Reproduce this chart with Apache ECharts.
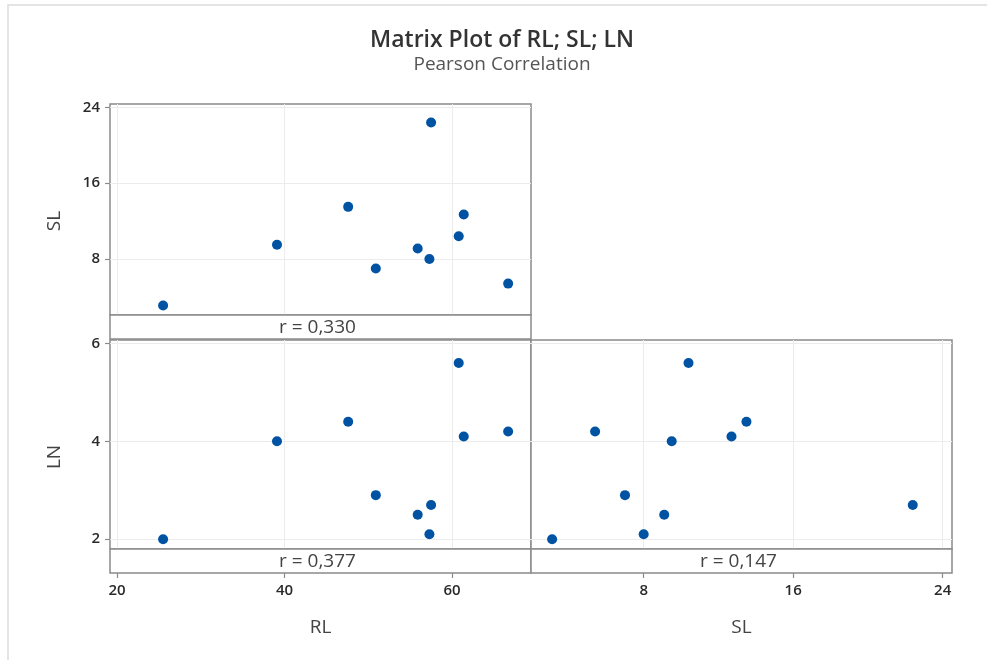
<!DOCTYPE html>
<html>
<head>
<meta charset="utf-8">
<title>Matrix Plot of RL; SL; LN</title>
<script src="https://cdn.jsdelivr.net/npm/echarts@6/dist/echarts.min.js"></script>
<style>
  html, body { margin: 0; padding: 0; background: #fff; }
  #chart { width: 987px; height: 660px; }
</style>
</head>
<body>
<div id="chart"></div>
<script>
// Observations (one entry per sample)
const RL = [25.5, 39.1, 47.6, 50.9, 55.9, 57.3, 57.5, 60.8, 61.4, 66.7];
const SL = [3.1, 9.5, 13.5, 7.0, 9.1, 8.0, 22.4, 10.4, 12.7, 5.4];
const LN = [2.0, 4.0, 4.4, 2.9, 2.5, 2.1, 2.7, 5.6, 4.1, 4.2];

// Tick positions for each variable
const rlTicks = [20, 40, 60];
const slTicks = [8, 16, 24];
const lnTicks = [2, 4, 6];

// Pearson correlation labels: RL-SL, RL-LN, SL-LN
const corrLabels = ['r = 0,330', 'r = 0,377', 'r = 0,147'];

const FONT = '"Open Sans", "Noto Sans", sans-serif';
const FRAME = '#8a8a8a';
const GRIDLINE = '#ececec';
const DOT = '#0052a3';

// Panel frames (data region; the correlation strip sits underneath)
const panels = [
  { left: 110, top: 104, width: 421, height: 211 },
  { left: 110, top: 340, width: 421, height: 209 },
  { left: 531, top: 340, width: 421, height: 209 }
];
const STRIP_H = 24;

const rlRange = { min: 19.16, max: 69.43 };
const slRangeX = { min: 1.97, max: 24.5 };
const slRangeY = { min: 2.09, max: 24.35 };
const lnRange = { min: 1.80, max: 6.07 };

const tickLabelStyle = { fontFamily: FONT, fontSize: 15, fontWeight: 600, color: '#2a2a2a' };

function xAxisDef(gridIndex, range, ticks, showLabels, name) {
  return {
    type: 'value', gridIndex, position: 'bottom',
    min: range.min, max: range.max,
    offset: showLabels ? STRIP_H : 0,
    name: name || '', nameLocation: 'middle', nameGap: 45,
    nameTextStyle: { fontFamily: FONT, fontSize: 19, color: '#444' },
    axisLine: { show: false },
    axisTick: { show: showLabels, length: 5, lineStyle: { color: FRAME, width: 1.2 }, customValues: ticks },
    axisLabel: Object.assign({ show: showLabels, customValues: ticks, margin: 10 }, tickLabelStyle),
    splitLine: { show: true, customValues: ticks, lineStyle: { color: GRIDLINE, width: 1 } }
  };
}
function yAxisDef(gridIndex, range, ticks, showLabels) {
  return {
    type: 'value', gridIndex, position: 'left',
    min: range.min, max: range.max,
    axisLine: { show: false },
    axisTick: { show: showLabels, length: 5, lineStyle: { color: FRAME, width: 1.2 }, customValues: ticks },
    axisLabel: Object.assign({ show: showLabels, customValues: ticks, margin: 10 }, tickLabelStyle),
    splitLine: { show: true, customValues: ticks, lineStyle: { color: GRIDLINE, width: 1 } }
  };
}

const pairs = (xs, ys) => xs.map((v, i) => [v, ys[i]]);

const graphics = [
  // outer chart border
  { type: 'rect', shape: { x: 8, y: 5, width: 1000, height: 700 }, style: { fill: 'none', stroke: '#dcdcdc', lineWidth: 1.5 }, z: 0, silent: true },
  // vertical axis titles
  { type: 'text', x: 55, y: 221, rotation: Math.PI / 2, style: { text: 'SL', fontFamily: FONT, fontSize: 19, fill: '#444', textAlign: 'center', textVerticalAlign: 'middle' }, z: 100 },
  { type: 'text', x: 55, y: 457, rotation: Math.PI / 2, style: { text: 'LN', fontFamily: FONT, fontSize: 19, fill: '#444', textAlign: 'center', textVerticalAlign: 'middle' }, z: 100 }
];
panels.forEach((p, i) => {
  graphics.push({
    type: 'rect', z: 100,
    shape: { x: p.left, y: p.top + p.height, width: p.width, height: STRIP_H },
    style: { fill: '#fff', stroke: FRAME, lineWidth: 1.5 }
  });
  graphics.push({
    type: 'text', z: 101,
    x: p.left + p.width / 2 - 3, y: p.top + p.height + STRIP_H / 2 + 1,
    style: { text: corrLabels[i], fontFamily: FONT, fontSize: 19, fill: '#444', textAlign: 'center', textVerticalAlign: 'middle' }
  });
});

const option = {
  backgroundColor: '#fff',
  animation: false,
  title: {
    text: 'Matrix Plot of RL; SL; LN',
    subtext: 'Pearson Correlation',
    left: 497, top: 24, textAlign: 'center', itemGap: 3,
    textStyle: { fontFamily: FONT, fontSize: 23, fontWeight: 600, color: '#333' },
    subtextStyle: { fontFamily: FONT, fontSize: 19, color: '#555' }
  },
  grid: panels.map(p => Object.assign({ show: true, borderColor: FRAME, borderWidth: 1.5, backgroundColor: '#fff', containLabel: false }, p)),
  xAxis: [
    xAxisDef(0, rlRange, rlTicks, false),
    xAxisDef(1, rlRange, rlTicks, true, 'RL'),
    xAxisDef(2, slRangeX, slTicks, true, 'SL')
  ],
  yAxis: [
    yAxisDef(0, slRangeY, slTicks, true),
    yAxisDef(1, lnRange, lnTicks, true),
    yAxisDef(2, lnRange, lnTicks, false)
  ],
  series: [
    { type: 'scatter', xAxisIndex: 0, yAxisIndex: 0, data: pairs(RL, SL) },
    { type: 'scatter', xAxisIndex: 1, yAxisIndex: 1, data: pairs(RL, LN) },
    { type: 'scatter', xAxisIndex: 2, yAxisIndex: 2, data: pairs(SL, LN) }
  ].map(s => Object.assign(s, { symbol: 'circle', symbolSize: 10, itemStyle: { color: DOT, opacity: 1 }, z: 3 })),
  graphic: graphics
};

const chart = echarts.init(document.getElementById('chart'), null, { renderer: 'canvas' });
chart.setOption(option);
</script>
</body>
</html>
